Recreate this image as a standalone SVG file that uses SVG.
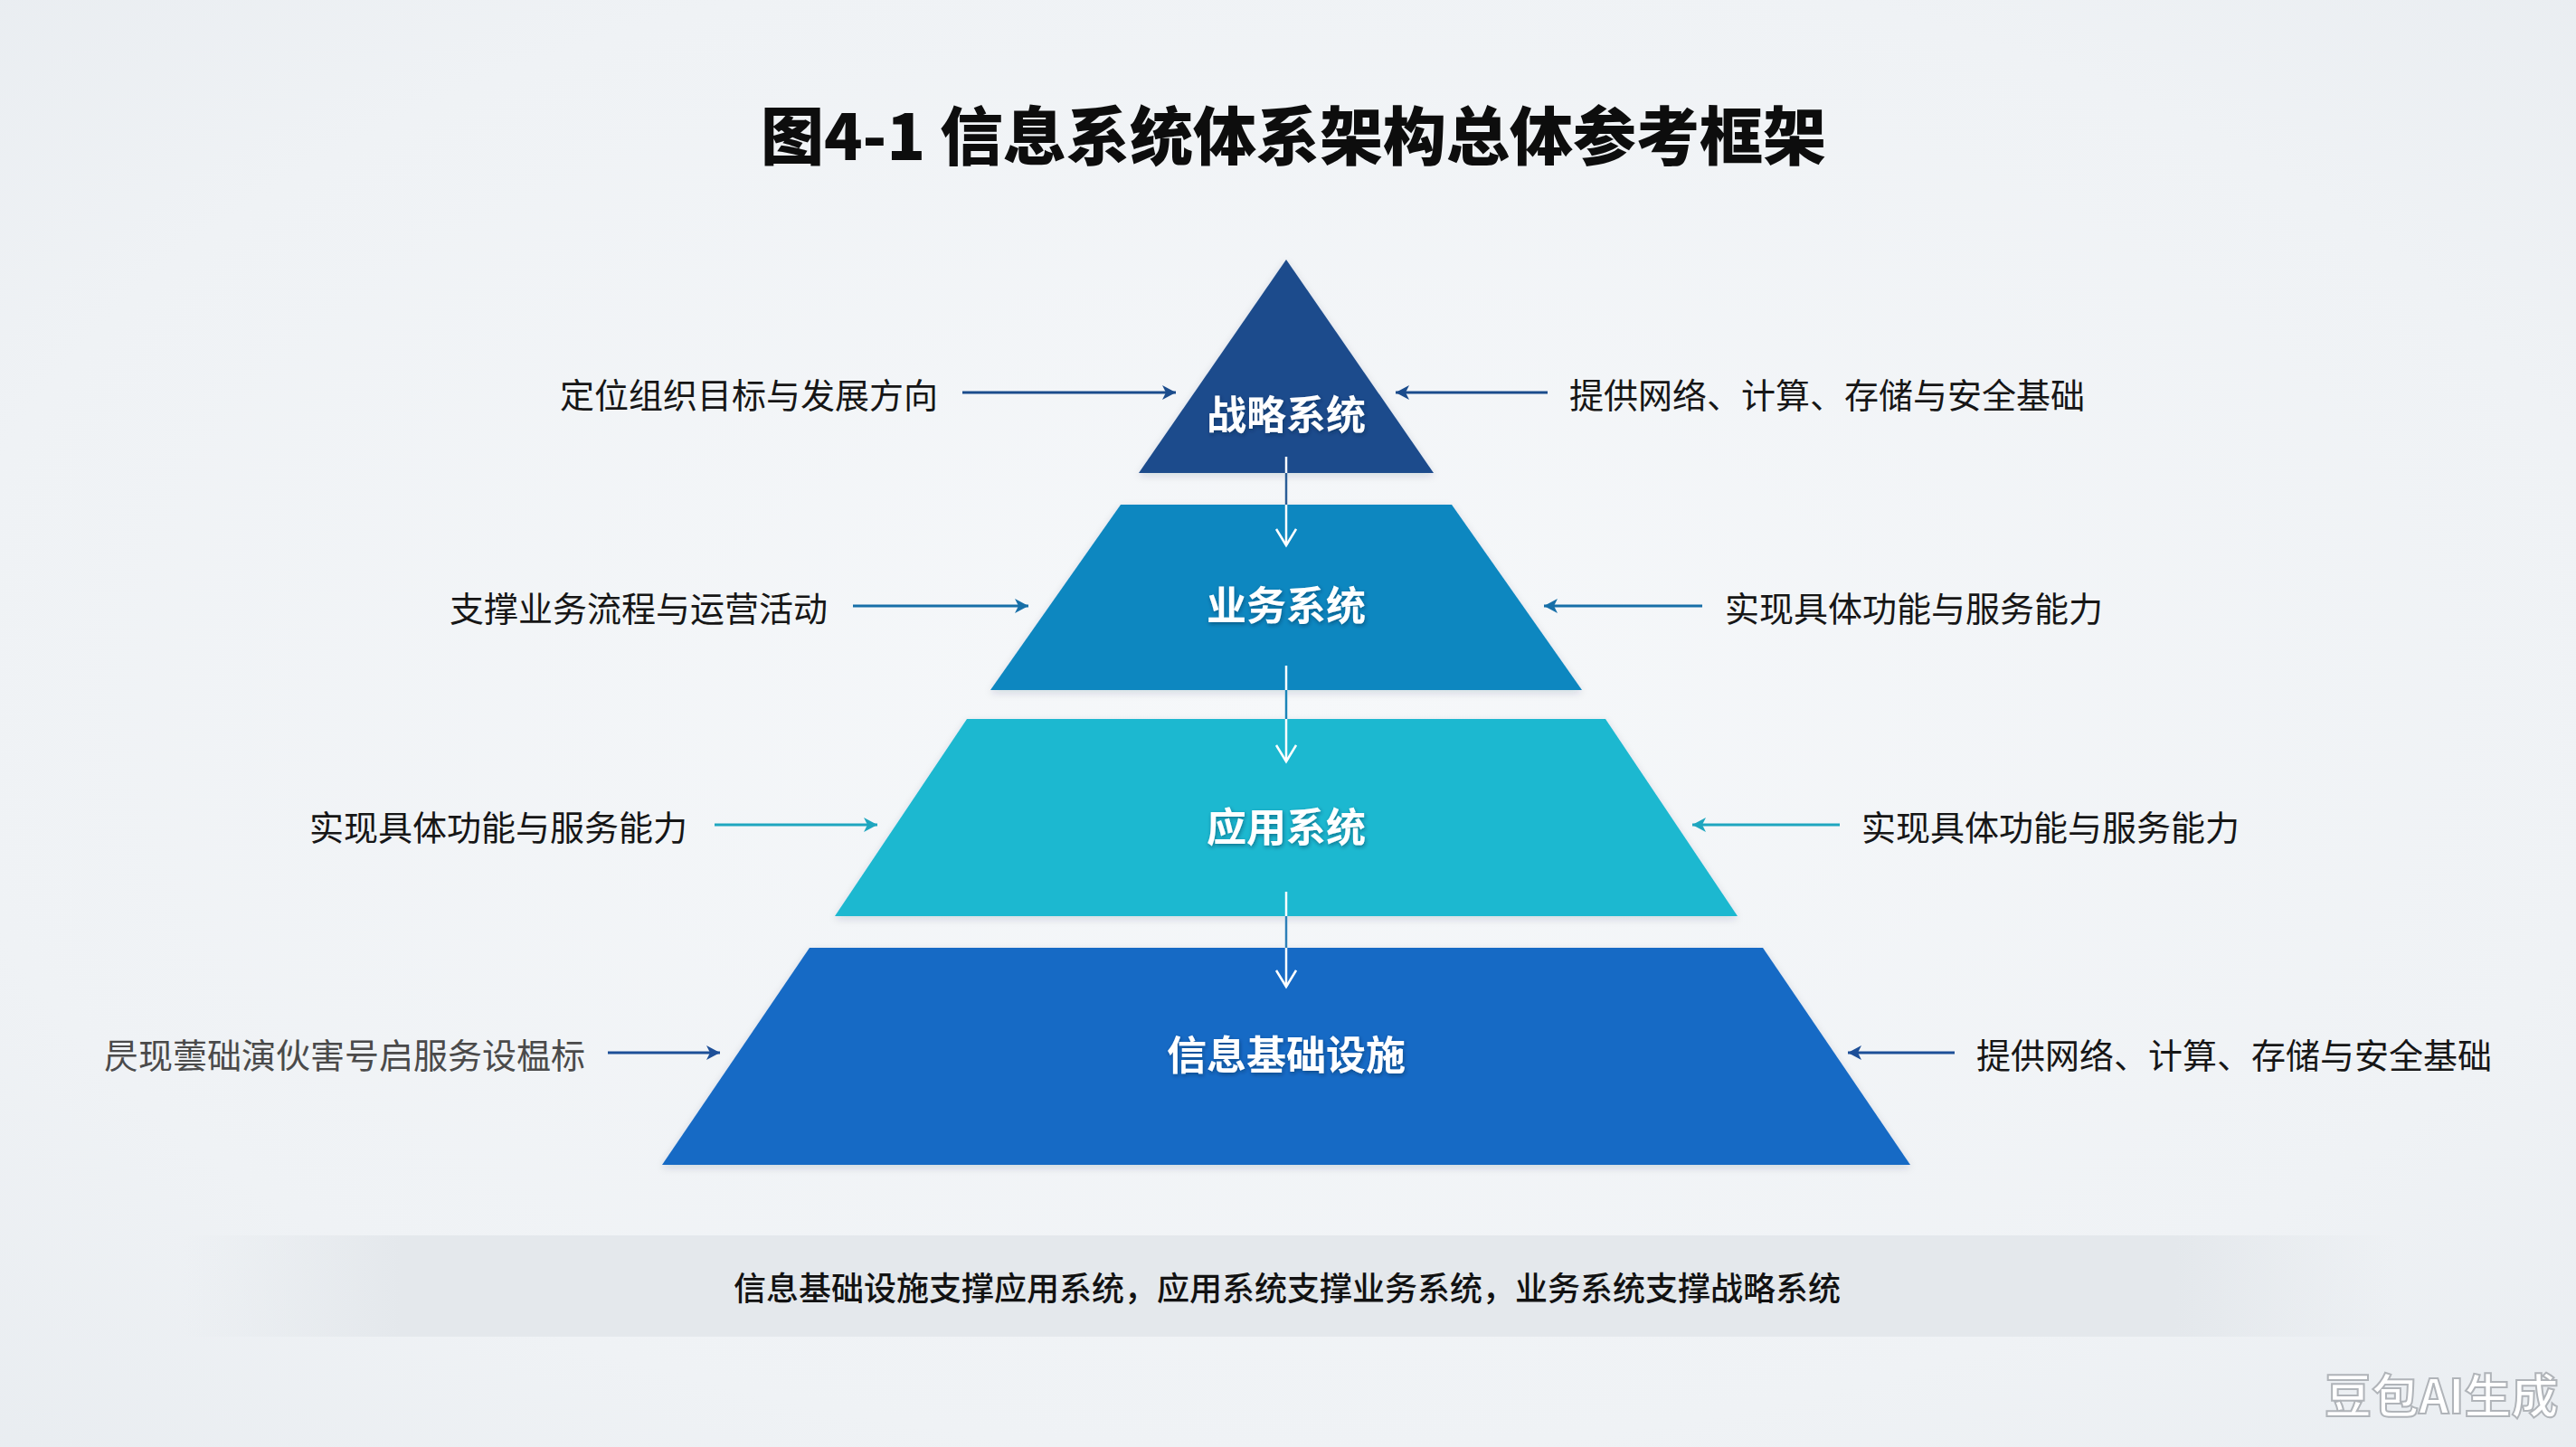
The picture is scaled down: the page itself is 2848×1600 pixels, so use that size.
<svg xmlns="http://www.w3.org/2000/svg" width="2848" height="1600" viewBox="0 0 2848 1600">
  <defs>
    <radialGradient id="bg" cx="50%" cy="48%" r="75%">
      <stop offset="0" stop-color="#f6f8fa"/>
      <stop offset="0.7" stop-color="#eff2f5"/>
      <stop offset="1" stop-color="#e8ecf0"/>
    </radialGradient>
    <linearGradient id="band" x1="0" y1="0" x2="1" y2="0">
      <stop offset="0" stop-color="#e4e8ec" stop-opacity="0"/>
      <stop offset="0.1" stop-color="#e4e8ec" stop-opacity="1"/>
      <stop offset="0.9" stop-color="#e4e8ec" stop-opacity="1"/>
      <stop offset="1" stop-color="#e4e8ec" stop-opacity="0"/>
    </linearGradient>
    <filter id="tshadow" x="-10%" y="-30%" width="120%" height="160%">
      <feDropShadow dx="1" dy="2" stdDeviation="2" flood-color="#06213f" flood-opacity="0.45"/>
    </filter>
    <filter id="lshadow" x="-5%" y="-5%" width="110%" height="115%">
      <feDropShadow dx="0" dy="3" stdDeviation="4" flood-color="#0b2a4a" flood-opacity="0.15"/>
    </filter>
    <marker id="aNavy" markerUnits="userSpaceOnUse" markerWidth="18" markerHeight="18" refX="15" refY="8" orient="auto">
      <path d="M0,0 L15,8 L0,16 L4,8 Z" fill="#1b4c8c"/>
    </marker>
    <marker id="aBlue" markerUnits="userSpaceOnUse" markerWidth="18" markerHeight="18" refX="15" refY="8" orient="auto">
      <path d="M0,0 L15,8 L0,16 L4,8 Z" fill="#176fa8"/>
    </marker>
    <marker id="aTeal" markerUnits="userSpaceOnUse" markerWidth="18" markerHeight="18" refX="15" refY="8" orient="auto">
      <path d="M0,0 L15,8 L0,16 L4,8 Z" fill="#1fa6bf"/>
    </marker>
    <marker id="aDeep" markerUnits="userSpaceOnUse" markerWidth="18" markerHeight="18" refX="15" refY="8" orient="auto">
      <path d="M0,0 L15,8 L0,16 L4,8 Z" fill="#1d4f98"/>
    </marker>
    <marker id="aWhite" markerUnits="userSpaceOnUse" markerWidth="24" markerHeight="30" refX="19" refY="12" orient="auto">
      <path d="M1,1 L19,12 L1,23" fill="none" stroke="#ffffff" stroke-width="2.5"/>
    </marker>
    <style>
      .title { font-family: "Noto Sans CJK SC", "Noto Sans", sans-serif; font-size: 70px; font-weight: 900; fill: #0d0d0d; }
      .node-text { font-family: "Noto Sans CJK SC", "Noto Sans", sans-serif; font-size: 44px; font-weight: 700; fill: #ffffff; }
      .label { font-family: "Noto Sans CJK SC", "Noto Sans", sans-serif; font-size: 38px; font-weight: 400; fill: #161616; }
      .label-grey { fill: #4a4a4a; }
      .note { font-family: "Noto Sans CJK SC", "Noto Sans", sans-serif; font-size: 36px; font-weight: 500; fill: #121212; }
      .wm { font-family: "Noto Sans CJK SC", "Noto Sans", sans-serif; font-size: 52px; font-weight: 700; fill: #ffffff; stroke: #b0b4b9; stroke-width: 2; }
      .side { fill: none; stroke-width: 3; }
      .down { fill: none; stroke: #ffffff; stroke-width: 2.5; }
      .gap { fill: none; stroke-width: 2.5; }
    </style>
  </defs>

  <rect x="0" y="0" width="2848" height="1600" fill="url(#bg)"/>

  <text class="title" x="1430" y="146" text-anchor="middle" dominant-baseline="central">图4-1 信息系统体系架构总体参考框架</text>

  <g id="node-strategy">
    <polygon points="1422,287 1259,523 1585,523" fill="#1b4c8c" filter="url(#lshadow)"/>
    <text class="node-text" x="1422" y="456" text-anchor="middle" dominant-baseline="central" filter="url(#tshadow)">战略系统</text>
  </g>
  <g id="node-business">
    <polygon points="1239,558 1605,558 1749,763 1095,763" fill="#1087c0" filter="url(#lshadow)"/>
    <text class="node-text" x="1422" y="667" text-anchor="middle" dominant-baseline="central" filter="url(#tshadow)">业务系统</text>
  </g>
  <g id="node-application">
    <polygon points="1069,795 1775,795 1921,1013 923,1013" fill="#1fb8d0" filter="url(#lshadow)"/>
    <text class="node-text" x="1422" y="912" text-anchor="middle" dominant-baseline="central" filter="url(#tshadow)">应用系统</text>
  </g>
  <g id="node-infrastructure">
    <polygon points="895,1048 1949,1048 2112,1288 732,1288" fill="#156bc5" filter="url(#lshadow)"/>
    <text class="node-text" x="1422" y="1164" text-anchor="middle" dominant-baseline="central" filter="url(#tshadow)">信息基础设施</text>
  </g>

  <g id="labels">
    <text class="label" x="1037" y="434" text-anchor="end" dominant-baseline="central">定位组织目标与发展方向</text>
    <text class="label" x="915" y="670" text-anchor="end" dominant-baseline="central">支撑业务流程与运营活动</text>
    <text class="label" x="760" y="912" text-anchor="end" dominant-baseline="central">实现具体功能与服务能力</text>
    <text class="label label-grey" x="647" y="1164" text-anchor="end" dominant-baseline="central">昃现蕓础演伙害号启服务设榅标</text>
    <text class="label" x="1735" y="434" dominant-baseline="central">提供网络、计算、存储与安全基础</text>
    <text class="label" x="1907" y="670" dominant-baseline="central">实现具体功能与服务能力</text>
    <text class="label" x="2058" y="912" dominant-baseline="central">实现具体功能与服务能力</text>
    <text class="label" x="2185" y="1164" dominant-baseline="central">提供网络、计算、存储与安全基础</text>
  </g>

  <g id="connectors">
    <line class="side" x1="1064" y1="434" x2="1300" y2="434" stroke="#1b4c8c" marker-end="url(#aNavy)"/>
    <line class="side" x1="1711" y1="434" x2="1543" y2="434" stroke="#1b4c8c" marker-end="url(#aNavy)"/>
    <line class="side" x1="943" y1="670" x2="1137" y2="670" stroke="#176fa8" marker-end="url(#aBlue)"/>
    <line class="side" x1="1882" y1="670" x2="1707" y2="670" stroke="#176fa8" marker-end="url(#aBlue)"/>
    <line class="side" x1="790" y1="912" x2="970" y2="912" stroke="#1fa6bf" marker-end="url(#aTeal)"/>
    <line class="side" x1="2034" y1="912" x2="1871" y2="912" stroke="#1fa6bf" marker-end="url(#aTeal)"/>
    <line class="side" x1="672" y1="1164" x2="796" y2="1164" stroke="#1d4f98" marker-end="url(#aDeep)"/>
    <line class="side" x1="2161" y1="1164" x2="2043" y2="1164" stroke="#1d4f98" marker-end="url(#aDeep)"/>

    <line class="down" x1="1422" y1="505" x2="1422" y2="603" marker-end="url(#aWhite)"/>
    <line class="gap" x1="1422" y1="523" x2="1422" y2="558" stroke="#2a5d96"/>
    <line class="down" x1="1422" y1="736" x2="1422" y2="842" marker-end="url(#aWhite)"/>
    <line class="gap" x1="1422" y1="763" x2="1422" y2="795" stroke="#1a84b8"/>
    <line class="down" x1="1422" y1="986" x2="1422" y2="1091" marker-end="url(#aWhite)"/>
    <line class="gap" x1="1422" y1="1013" x2="1422" y2="1048" stroke="#2c7fb8"/>
  </g>

  <rect x="200" y="1366" width="2450" height="112" fill="url(#band)"/>
  <text class="note" x="1423" y="1422" text-anchor="middle" dominant-baseline="central">信息基础设施支撑应用系统，应用系统支撑业务系统，业务系统支撑战略系统</text>

  <text class="wm" x="2570" y="1540" dominant-baseline="central">豆包AI生成</text>
</svg>
